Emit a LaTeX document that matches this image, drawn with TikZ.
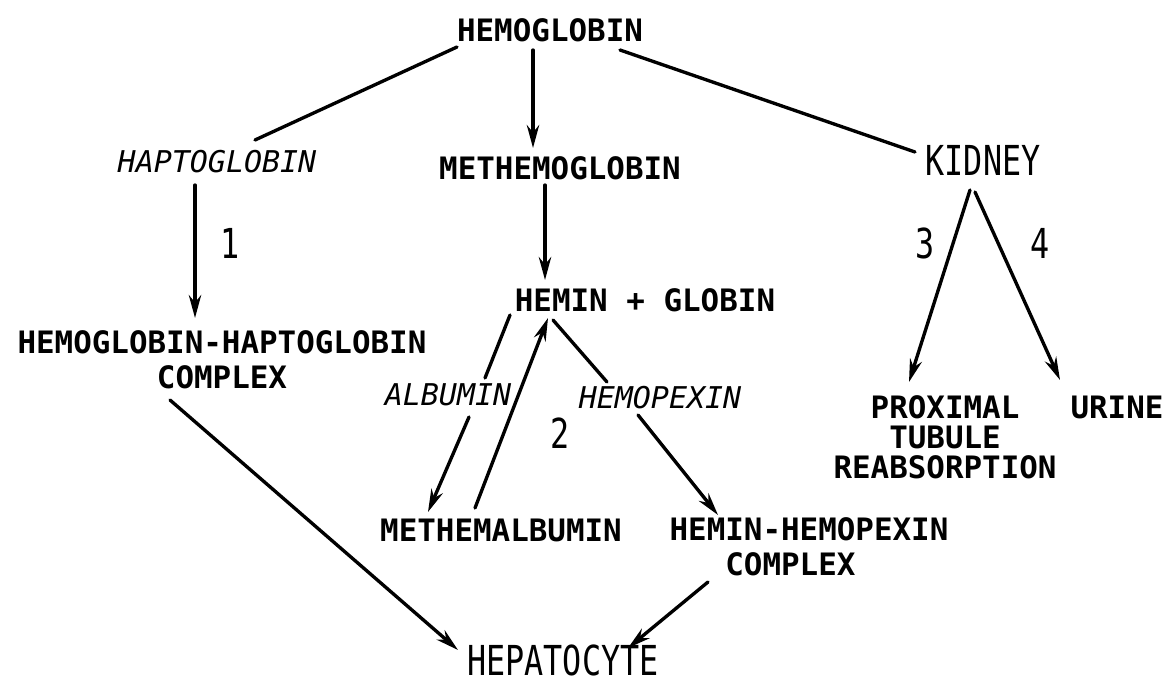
\documentclass[tikz,border=0pt]{standalone}
\usepackage{fontspec}
\newfontfamily\tw{DejaVu Sans Mono}
\usetikzlibrary{arrows.meta,calc}
\newcommand\tallt[1]{\scalebox{1}[1.3]{#1}}
\begin{document}
\begin{tikzpicture}[x=0.5669pt,y=-0.5669pt,
  lbl/.style={inner sep=0pt, font=\tw\bfseries\fontsize{17.5}{19.8}\selectfont, align=center},
  ital/.style={inner sep=0pt, font=\tw\itshape\fontsize{17}{19.8}\selectfont},
  tall/.style={inner sep=0pt, font=\tw\fontsize{18}{20}\selectfont},
  ln/.style={line width=1.9pt, line cap=round},
  arr/.style={line width=1.9pt, line cap=round, -{Stealth[length=13pt,width=7pt]}}]
\fill[white] (0,0) rectangle (1175,689);
\useasboundingbox (0,0) rectangle (1175,689);

% nodes
\node[lbl] (hb) at (550,30) {HEMOGLOBIN};
\node[ital] (hapto) at (217,162) {HAPTOGLOBIN};
\node[lbl] (methb) at (560,168) {METHEMOGLOBIN};
\node[tall] (kid) at (983,160) {\tallt{KIDNEY}};
\node[lbl] (hhc) at (222,360) {HEMOGLOBIN-HAPTOGLOBIN\\COMPLEX};
\node[lbl] (hemin) at (645,300) {HEMIN + GLOBIN};
\node[ital] (alb) at (448,395) {ALBUMIN};
\node[ital] (hpx) at (660,398) {HEMOPEXIN};
\node[lbl] (methalb) at (501,530) {METHEMALBUMIN};
\node[lbl] (hhpx) at (809,547) {HEMIN-HEMOPEXIN\\COMPLEX\phantom{XX}};
\node[tall] (hep) at (563,660) {\tallt{HEPATOCYTE}};
\node[lbl, font=\tw\bfseries\fontsize{17.5}{17}\selectfont] (prox) at (945,437) {PROXIMAL\\TUBULE\\REABSORPTION};
\node[lbl] (urine) at (1117,407) {URINE};
\node[tall] (n1) at (230,243) {\tallt{1}};
\node[tall] (n2) at (560,433) {\tallt{2}};
\node[tall] (n3) at (925,243) {\tallt{3}};
\node[tall] (n4) at (1040,243) {\tallt{4}};

% connectors
\draw[ln] ($(hb)+(-93,17)$) -- ($(hapto)+(38,-22)$);
\draw[arr] ($(hb)+(-17,20)$) -- ($(methb)+(-27,-20)$);
\draw[ln] ($(hb)+(70,20)$) -- ($(kid)+(-68,-8)$);
\draw[arr] ($(hapto)+(-22,23)$) -- ($(hhc)+(-27,-42)$);
\draw[arr] ($(hhc)+(-52,40)$) -- ($(hep)+(-105,-10)$);
\draw[arr] ($(methb)+(-15,17)$) -- ($(hemin)+(-100,-20)$);
\draw[ln] ($(hemin)+(-135,15)$) -- ($(alb)+(37,-17)$);
\draw[arr] ($(alb)+(21,22)$) -- ($(methalb)+(-73,-18)$);
\draw[arr] ($(methalb)+(-26,-22)$) -- ($(hemin)+(-97,18)$);
\draw[ln] ($(hemin)+(-92,20)$) -- ($(hpx)+(-53,-16)$);
\draw[arr] ($(hpx)+(-22,17)$) -- ($(hhpx)+(-91,-32)$);
\draw[arr] ($(hhpx)+(-101,35)$) -- ($(hep)+(65,-12)$);
\draw[arr] ($(kid)+(-13,30)$) -- ($(prox)+(-36,-55)$);
\draw[arr] ($(kid)+(-8,32)$) -- ($(urine)+(-57,-27)$);
\end{tikzpicture}
\end{document}
